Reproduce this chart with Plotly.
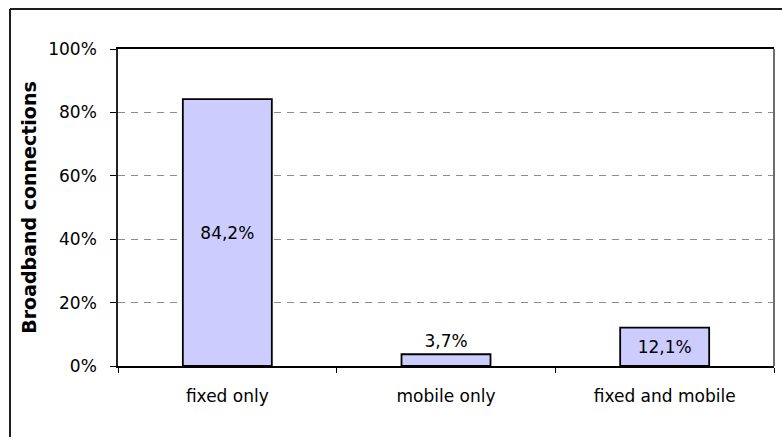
import plotly.graph_objects as go

# Share of broadband connections by access type
categories = ["fixed only", "mobile only", "fixed and mobile"]
shares = [84.2, 3.7, 12.1]
label_positions = ["inside", "outside", "inside"]
y_ticks = [0, 20, 40, 60, 80, 100]
y_tick_text = [f"{v}%" for v in y_ticks]

W, H = 782, 437
L, R, T, B = 118, 8, 49, 71
pw, ph = W - L - R, H - T - B

tick_font = dict(family="DejaVu Sans", size=17, color="black")

fig = go.Figure(
    go.Bar(
        x=categories,
        y=shares,
        marker=dict(color="#CCCCFF", line=dict(color="black", width=1.8)),
        texttemplate="%{y:.1f}%",
        textposition=label_positions,
        insidetextanchor="middle",
        textfont=tick_font,
        cliponaxis=False,
        hoverinfo="skip",
    )
)

fig.update_layout(
    width=W,
    height=H,
    margin=dict(l=L, r=R, t=T, b=B, pad=0),
    paper_bgcolor="white",
    plot_bgcolor="white",
    separators=",.",
    bargap=0.593,
    showlegend=False,
)

fig.update_xaxes(
    type="category",
    showline=True,
    linecolor="black",
    linewidth=1.5,
    mirror=True,
    ticks="outside",
    tickson="boundaries",
    ticklen=5,
    tickcolor="black",
    tickfont=tick_font,
    ticklabelstandoff=14,
    showgrid=False,
)

fig.update_yaxes(
    range=[0, 100],
    tickmode="array",
    tickvals=y_ticks,
    ticktext=y_tick_text,
    showline=True,
    linecolor="#222222",
    linewidth=1.5,
    ticks="outside",
    ticklen=6,
    tickcolor="black",
    tickfont=tick_font,
    ticklabelstandoff=10,
    showgrid=True,
    gridcolor="#8C8C8C",
    gridwidth=1,
    griddash="7px,6px",
    zeroline=False,
    title=dict(
        text="Broadband connections",
        font=dict(family="DejaVu Sans", size=19, color="black", weight="bold"),
        standoff=7,
    ),
)

# right border of the plot area
fig.add_shape(
    type="line", xref="paper", yref="paper",
    x0=1, x1=1, y0=0, y1=1,
    line=dict(color="rgb(110,110,110)", width=2),
)

# outer chart frame: left and top edges
fx0 = (10 - L) / pw
fy1 = 1 + (T - 9) / ph
fig.add_shape(
    type="line", xref="paper", yref="paper",
    x0=fx0, x1=fx0, y0=-0.3, y1=fy1,
    line=dict(color="rgb(30,30,30)", width=2),
)
fig.add_shape(
    type="line", xref="paper", yref="paper",
    x0=fx0, x1=1.02, y0=fy1, y1=fy1,
    line=dict(color="rgb(30,30,30)", width=2),
)

fig.write_html("out.html")
